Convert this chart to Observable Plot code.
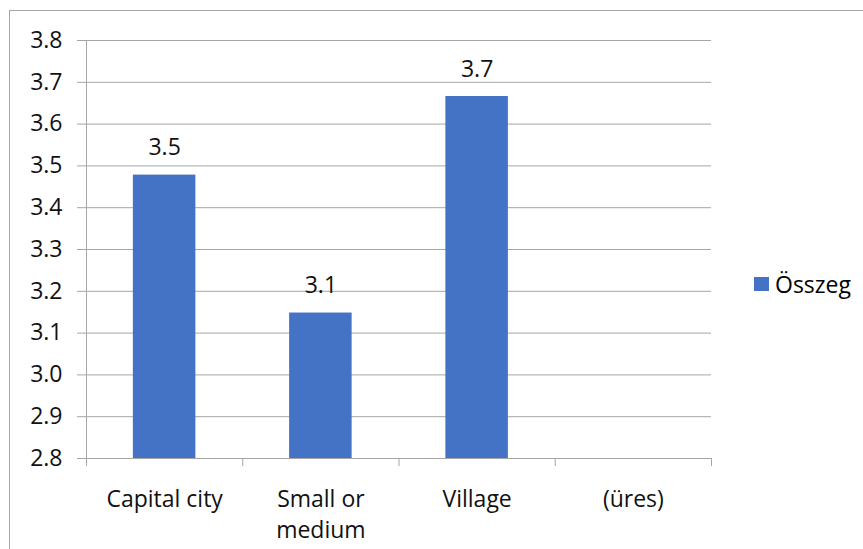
<!DOCTYPE html>
<html>
<head>
<meta charset="utf-8">
<script src="https://cdn.jsdelivr.net/npm/d3@7"></script>
<script src="https://cdn.jsdelivr.net/npm/@observablehq/plot@0.6"></script>
<style>
  html, body { margin: 0; padding: 0; background: #fff; overflow: hidden; }
  #wrap { position: relative; width: 863px; height: 549px; font-family: "Open Sans", sans-serif; }
  #border { position: absolute; left: 9px; top: 10px; width: 900px; height: 600px;
            border-left: 1px solid #a6a6a6; border-top: 1px solid #a6a6a6; box-sizing: border-box; }
  #chart { position: absolute; left: 0; top: 0; }
  #legend { position: absolute; left: 754px; top: 270px; display: flex; align-items: center;
            font-size: 23px; color: #000; line-height: 28px; }
  #legend .sw { width: 15px; height: 14px; background: #4472C4; margin-right: 6px; }
</style>
</head>
<body>
<div id="wrap">
  <div id="border"></div>
  <div id="chart"></div>
  <div id="legend"><span class="sw"></span><span>Összeg</span></div>
</div>
<script>
// Category names along the bottom axis
const categories = ["Capital city", "Small or\nmedium", "Village", "(üres)"];
// Average per category ("(üres)" has no value)
const values = [3.478, 3.148, 3.666, null];
// Value axis ticks
const yTicks = [2.8, 2.9, 3.0, 3.1, 3.2, 3.3, 3.4, 3.5, 3.6, 3.7, 3.8];

const rows = categories.map((name, i) => ({ i, name, value: values[i] }));
const bars = rows.filter(d => d.value != null);
const yMin = yTicks[0], yMax = yTicks[yTicks.length - 1];
const bounds = d3.range(categories.length + 1);

const grid = "#a6a6a6";
const fmt = d3.format(".1f");
const fs = 23;

const chart = Plot.plot({
  width: 863,
  height: 549,
  marginLeft: 86,
  marginRight: 152,
  marginTop: 40,
  marginBottom: 91,
  style: { fontFamily: "'Open Sans', sans-serif", fontSize: fs + "px", color: "#000", background: "transparent" },
  x: { domain: [0, categories.length], axis: null },
  y: { domain: [yMin, yMax], axis: null },
  marks: [
    Plot.gridY(yTicks, { stroke: grid, strokeOpacity: 1 }),
    Plot.axisY({ ticks: yTicks, tickFormat: fmt, label: null, tickSize: 9, tickPadding: 15, stroke: grid, strokeOpacity: 1, fontSize: fs, fill: "#111" }),
    Plot.ruleX([0], { stroke: grid }),
    Plot.ruleY([yMin], { stroke: grid }),
    Plot.axisX({ ticks: bounds, tickFormat: () => "", label: null, tickSize: 8, stroke: grid, strokeOpacity: 1 }),
    Plot.rectY(bars, { x1: d => d.i + 0.3, x2: d => d.i + 0.7, y1: yMin, y2: "value", fill: "#4472C4" }),
    Plot.text(bars, { x: d => d.i + 0.5, y: "value", text: d => fmt(d.value), dy: -27, fontSize: fs, fill: "#111" }),
    Plot.text(rows, { x: d => d.i + 0.5, y: yMin, text: "name", lineAnchor: "top", dy: 26, lineHeight: 1.36, fontSize: fs, fill: "#111" })
  ]
});
document.getElementById("chart").appendChild(chart);
</script>
</body>
</html>
